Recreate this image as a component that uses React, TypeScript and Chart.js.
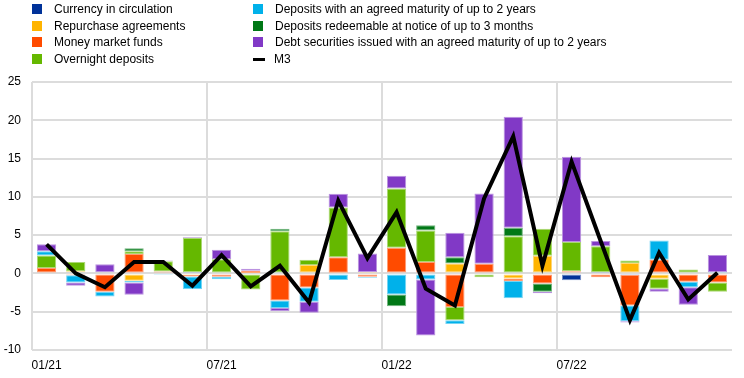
import React, { useEffect, useRef } from "react";
import { Chart, registerables } from "chart.js";

Chart.register(...registerables);

const months = [
  "01/21", "02/21", "03/21", "04/21", "05/21", "06/21", "07/21", "08/21", "09/21", "10/21", "11/21", "12/21",
  "01/22", "02/22", "03/22", "04/22", "05/22", "06/22", "07/22", "08/22", "09/22", "10/22", "11/22", "12/22",
];

const currencyInCirculation = [0, 0.15, 0, 0, 0, 0.2, 0, 0, 0, 0, 0, 0, 0, 0, 0, 0, 0, 0, -0.9, 0.2, -0.2, 0, 0, 0];
const repurchaseAgreements = [0, 0.15, 0, -0.95, 0, -0.2, 0, 0.05, 0, 1.1, 0.1, 0.2, 0, 0, 1.3, 0, -0.65, 2.3, 0, 0, 1.35, -0.7, 0, 0];
const moneyMarketFunds = [0.7, -0.25, -2.4, 2.55, 0.25, -0.2, -0.45, 0.3, -3.55, -1.85, 2.0, -0.45, 3.35, 1.5, -4.4, 1.25, -0.35, -1.3, 0.3, -0.5, -4.0, 1.8, -1.1, -1.2];
const overnightDeposits = [1.65, 1.2, 0.15, 0.35, 1.35, 4.45, 1.85, -2.1, 5.5, 0.7, 6.5, 0, 7.75, 4.1, -1.7, -0.5, 4.85, 3.55, 3.8, 3.35, 0.35, -1.3, 0.5, -1.2];
const depositsAgreedMaturity = [0.55, -0.95, -0.6, -0.25, -0.2, -1.65, -0.3, 0, -0.95, -1.85, -0.85, -0.1, -2.75, -0.8, -0.5, 0, -2.25, 0, 0, 0, -2.05, 2.5, -0.7, 0.2];
const depositsRedeemable = [0, 0, 0, 0.4, 0, 0, 0, 0, 0.35, 0, 0, 0, -1.55, 0.7, 0.8, 0, 1.1, -1.1, 0, 0, 0, 0, 0, 0];
const debtSecurities = [0.9, -0.4, 1.05, -1.6, 0.1, 0.1, 1.25, 0.25, -0.4, -1.45, 1.8, 2.4, 1.65, -7.3, 3.2, 9.2, 14.5, -0.2, 11.15, 0.7, -0.15, -0.4, -2.3, 2.2];
const m3 = [3.8, 0.0, -1.8, 1.5, 1.5, -1.6, 2.4, -1.7, 1.0, -3.8, 9.5, 2.0, 8.0, -2.0, -4.2, 9.8, 17.9, 1.0, 14.6, 4.2, -6.1, 2.7, -3.4, 0.1];

const yTickMin = -10;
const yTickMax = 25;
const yTickStep = 5;

const barSeries = [
  { label: "Currency in circulation", data: currencyInCirculation, color: "#003299" },
  { label: "Repurchase agreements", data: repurchaseAgreements, color: "#FFB400" },
  { label: "Money market funds", data: moneyMarketFunds, color: "#FF4B00" },
  { label: "Overnight deposits", data: overnightDeposits, color: "#65B800" },
  { label: "Deposits with an agreed maturity of up to 2 years", data: depositsAgreedMaturity, color: "#00B1EA" },
  { label: "Deposits redeemable at notice of up to 3 months", data: depositsRedeemable, color: "#007816" },
  { label: "Debt securities issued with an agreed maturity of up to 2 years", data: debtSecurities, color: "#8139C6" },
];

const FONT = '"Liberation Sans", Arial, Helvetica, sans-serif';

function lighten(hex: string, amt: number) {
  const n = parseInt(hex.slice(1), 16);
  const r = (n >> 16) & 255, g = (n >> 8) & 255, b = n & 255;
  const f = (c: number) => Math.round(c + (255 - c) * amt);
  return `rgb(${f(r)},${f(g)},${f(b)})`;
}

function LegendItem({ x, y, label, color, line }: { x: number; y: number; label: string; color: string; line?: boolean }) {
  return (
    <div style={{ position: "absolute", left: x, top: y - 8, height: 16, display: "flex", alignItems: "center", whiteSpace: "nowrap" }}>
      {line ? (
        <div style={{ width: 12, height: 3, background: color, marginRight: 9, marginLeft: 0 }} />
      ) : (
        <div style={{ width: 10, height: 10, background: color, marginRight: 12 }} />
      )}
      <span style={{ font: `12px ${FONT}`, color: "#000" }}>{label}</span>
    </div>
  );
}

export default function App() {
  const canvasRef = useRef<HTMLCanvasElement | null>(null);

  useEffect(() => {
    document.body.style.margin = "0";
    const canvas = canvasRef.current;
    if (!canvas) return;
    Chart.defaults.font.family = FONT;
    const datasets: any[] = barSeries.map((s) => ({
      type: "bar",
      label: s.label,
      data: s.data,
      backgroundColor: s.color,
      borderColor: lighten(s.color, 0.45),
      borderWidth: 1,
      borderSkipped: false,
      stack: "components",
      order: 2,
      barPercentage: 0.66,
      categoryPercentage: 1,
    }));
    datasets.push({
      type: "line",
      label: "M3",
      data: m3,
      borderColor: "#000",
      backgroundColor: "#000",
      borderWidth: 4,
      pointRadius: 0,
      tension: 0,
      stack: "m3",
      order: 0,
    });

    const chart = new Chart(canvas, {
      type: "bar",
      data: { labels: months, datasets },
      options: {
        responsive: false,
        animation: false,
        layout: { padding: { top: 82, right: 12, left: 0, bottom: 0 } },
        plugins: { legend: { display: false }, tooltip: { enabled: false } },
        scales: {
          x: {
            stacked: true,
            offset: true,
            grid: {
              offset: true,
              drawTicks: false,
              lineWidth: 2,
              color: (ctx: any) => (ctx.index % 6 === 0 || ctx.index === months.length ? "#dcdcdc" : "rgba(0,0,0,0)"),
            },
            border: { display: false },
            ticks: {
              autoSkip: false,
              maxRotation: 0,
              padding: 8,
              color: "#000",
              font: { size: 12, family: FONT },
              callback: (_v: any, i: number) => (i % 6 === 0 ? months[i] : ""),
            },
            afterFit: (scale: any) => {
              scale.height = 28;
            },
          },
          y: {
            stacked: true,
            min: yTickMin,
            max: yTickMax,
            grid: { drawTicks: false, lineWidth: 2, color: "#dcdcdc" },
            border: { display: false },
            ticks: { stepSize: yTickStep, padding: 11, color: "#000", font: { size: 12, family: FONT } },
            afterFit: (scale: any) => {
              scale.width = 32;
            },
          },
        },
      },
    });
    return () => chart.destroy();
  }, []);

  const rows = [9, 25.7, 42.3, 59];
  return (
    <div style={{ position: "relative", width: 744, height: 378, background: "#fff" }}>
      <canvas ref={canvasRef} width={744} height={378} style={{ position: "absolute", left: 0, top: 0 }} />
      {barSeries.slice(0, 4).map((s, i) => (
        <LegendItem key={s.label} x={32} y={rows[i]} label={s.label} color={s.color} />
      ))}
      {barSeries.slice(4).map((s, i) => (
        <LegendItem key={s.label} x={253} y={rows[i]} label={s.label} color={s.color} />
      ))}
      <LegendItem x={253} y={rows[3]} label="M3" color="#000" line />
    </div>
  );
}
